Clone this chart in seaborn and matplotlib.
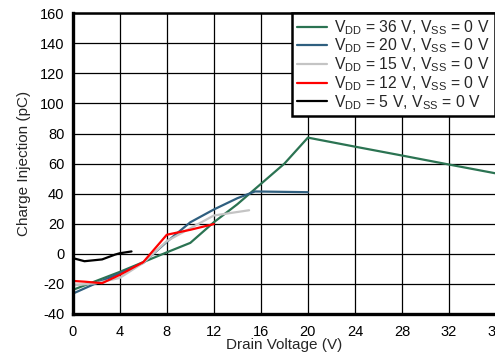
import matplotlib
matplotlib.use("Agg")
import matplotlib.pyplot as plt
import seaborn as sns
import pandas as pd

# Data
x_36 = [0, 2, 4, 6, 8, 10, 12, 14, 16, 18, 20, 24, 28, 32, 36]
y_36 = [-24, -18, -12, -5.5, 1, 7.3, 21, 33, 46.5, 60, 77.3, 71.3, 65.4, 59.4, 53.5]

x_20 = [0, 2, 4, 6, 8, 10, 12, 14, 15.5, 20]
y_20 = [-26.5, -19.5, -13, -6, 8, 21, 29.5, 37, 41.5, 41]

x_15 = [0, 2, 4, 6, 8, 10, 12, 15]
y_15 = [-21, -19.5, -16, -6, 8.5, 17, 25.5, 29]

x_12 = [0, 1, 2.5, 4, 6, 8, 10, 12]
y_12 = [-18, -18.5, -19.5, -14, -5.5, 12.7, 16, 19.8]

x_5 = [0, 1, 2.5, 3.6, 4, 5]
y_5 = [-2.8, -4.9, -3.7, -0.5, 0.4, 1.6]

labels = [r"V$_{\mathrm{DD}}$ = 36 V, V$_{\mathrm{SS}}$ = 0 V",
          r"V$_{\mathrm{DD}}$ = 20 V, V$_{\mathrm{SS}}$ = 0 V",
          r"V$_{\mathrm{DD}}$ = 15 V, V$_{\mathrm{SS}}$ = 0 V",
          r"V$_{\mathrm{DD}}$ = 12 V, V$_{\mathrm{SS}}$ = 0 V",
          r"V$_{\mathrm{DD}}$ = 5 V, V$_{\mathrm{SS}}$ = 0 V"]
colors = ["#2b7352", "#2f5f7f", "#c4c4c4", "#ff0000", "#000000"]

x_ticks = [0, 4, 8, 12, 16, 20, 24, 28, 32, 36]
y_ticks = [-40, -20, 0, 20, 40, 60, 80, 100, 120, 140, 160]

frames = []
for lab, xs, ys in zip(labels, [x_36, x_20, x_15, x_12, x_5], [y_36, y_20, y_15, y_12, y_5]):
    frames.append(pd.DataFrame({"x": xs, "y": ys, "series": lab}))
df = pd.concat(frames, ignore_index=True)

sns.set_style("white")
plt.rcParams["font.family"] = ["Liberation Sans", "DejaVu Sans"]
plt.rcParams["mathtext.fontset"] = "custom"
plt.rcParams["mathtext.rm"] = "Liberation Sans"
plt.rcParams["mathtext.it"] = "Liberation Sans"
plt.rcParams["mathtext.bf"] = "Liberation Sans"

fig = plt.figure(figsize=(4.95, 3.6), dpi=100)
ax = fig.add_axes([0.1469, 0.1278, 0.8552, 0.8353])

sns.lineplot(data=df, x="x", y="y", hue="series", hue_order=labels,
             palette=colors, estimator=None, sort=False, linewidth=1.6, ax=ax,
             legend=False)

ax.set_xlim(0, 36)
ax.set_ylim(-40, 160)
ax.set_xticks(x_ticks)
ax.set_yticks(y_ticks)
ax.set_xticklabels([str(t) for t in x_ticks])
ax.set_yticklabels([str(t) for t in y_ticks])
ax.tick_params(axis="both", length=0, labelsize=10.5, colors="black")
ax.tick_params(axis="y", pad=6)
ax.tick_params(axis="x", pad=8)
ax.grid(True, color="black", linewidth=0.9)
ax.set_axisbelow(True)
for s in ["left", "bottom"]:
    ax.spines[s].set_linewidth(2.4)
    ax.spines[s].set_color("black")
for s in ["top", "right"]:
    ax.spines[s].set_linewidth(1.8)
    ax.spines[s].set_color("black")

ax.set_xlabel("Drain Voltage (V)", fontsize=11, labelpad=-1)
ax.set_ylabel("Charge Injection (pC)", fontsize=11, labelpad=6)

handles = [plt.Line2D([], [], color=c, linewidth=1.6) for c in colors]
leg = fig.legend(handles, labels, loc="upper left",
                 bbox_to_anchor=(292 / 495, 1 - 13.3 / 360),
                 bbox_transform=fig.transFigure,
                 fontsize=11.3, frameon=True, fancybox=False,
                 handlelength=1.9, handletextpad=0.5, labelspacing=0.0,
                 borderpad=0.3, borderaxespad=0)
leg.get_frame().set_edgecolor("black")
leg.get_frame().set_linewidth(1.8)
leg.get_frame().set_facecolor("white")
leg.get_frame().set_alpha(1)

fig.savefig("out.png", dpi=100)
